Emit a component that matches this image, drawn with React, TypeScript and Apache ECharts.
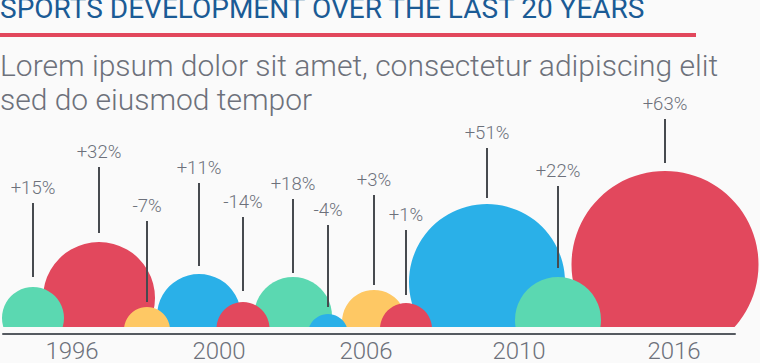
import React, { useEffect, useRef } from "react";
import * as echarts from "echarts";

const TITLE = "SPORTS DEVELOPMENT OVER THE LAST 20 YEARS";
const SUBTITLE = "Lorem ipsum dolor sit amet, consectetur adipiscing elit\nsed do eiusmod tempor";

// one entry per bubble
const changeLabels = ["+15%", "+32%", "-7%", "+11%", "-14%", "+18%", "-4%", "+3%", "+1%", "+51%", "+22%", "+63%"];
const bubbleX = [33, 99, 147, 199, 243, 293, 328, 374, 406, 487, 558, 665];
const bubbleY = [9, 29, -3, 11, -1.5, 11, -7, 5, -2, 45, 7, 62.5];
const bubbleR = [31, 56, 23, 42, 26.5, 39, 20, 32, 26, 78, 43, 93.5];
const leaderTop = [124, 160, 106, 144, 110, 128, 102, 132, 97, 179, 141, 208];
const leaderBottom = [50, 94, 25, 61, 36, 54, 20, 42, 32, 129, 59, 164];
const colorIndex = [0, 1, 2, 3, 1, 0, 3, 2, 1, 3, 0, 1];

// timeline tick labels
const yearLabels = ["1996", "2000", "2006", "2010", "2016"];
const yearPos = [72, 219, 366, 519, 674];

const PALETTE = ["#5bd8b1", "#e2485d", "#fec864", "#2ab0e8"];
const TEXT_GRAY = "#6d717b";
const FONT = "Roboto, 'Noto Sans', sans-serif";

export default function App() {
  const ref = useRef<HTMLDivElement>(null);

  useEffect(() => {
    if (!ref.current) return;
    const chart = echarts.init(ref.current, null, { renderer: "svg" });

    const bubbles = bubbleX
      .map((x, i) => [x, bubbleY[i], bubbleR[i], colorIndex[i]])
      .sort((a, b) => b[2] - a[2]);
    const leaders = bubbleX.map((x, i) => [x, leaderTop[i], leaderBottom[i], i]);

    chart.setOption({
      animation: false,
      backgroundColor: "#fafafa",
      title: [
        {
          text: TITLE,
          left: 0,
          top: -6,
          padding: 0,
          textStyle: { fontFamily: FONT, fontSize: 28, fontWeight: "normal", color: "#1b5b95" },
        },
        {
          text: SUBTITLE,
          left: 0,
          top: 48,
          padding: 0,
          textStyle: { fontFamily: FONT, fontSize: 30, fontWeight: 300, color: TEXT_GRAY, lineHeight: 34 },
        },
      ],
      graphic: [
        { type: "rect", left: 0, top: 33, shape: { width: 696, height: 4 }, style: { fill: "#e2475c" } },
      ],
      grid: [
        { left: 0, right: 0, top: 80, bottom: 36 },
        { left: 3, right: 25, top: 300, bottom: 25 },
      ],
      xAxis: [
        { type: "value", gridIndex: 0, min: 0, max: 760, show: false },
        {
          type: "value",
          gridIndex: 1,
          min: 3,
          max: 735,
          splitLine: { show: false },
          axisTick: { show: false },
          axisLine: { show: true, lineStyle: { color: "#555a60", width: 2 } },
          axisLabel: {
            customValues: yearPos,
            formatter: (v: number) => {
              const idx = yearPos.indexOf(v);
              return idx >= 0 ? yearLabels[idx] : "";
            },
            fontFamily: FONT,
            fontSize: 24,
            fontWeight: 300,
            color: TEXT_GRAY,
            margin: 5,
          },
        },
      ],
      yAxis: [
        { type: "value", gridIndex: 0, min: 0, max: 247, show: false },
        { type: "value", gridIndex: 1, min: 0, max: 1, show: false },
      ],
      series: [
        {
          type: "custom",
          xAxisIndex: 0,
          yAxisIndex: 0,
          clip: true,
          data: bubbles,
          renderItem: (params: any, api: any) => {
            const c = api.coord([api.value(0), api.value(1)]);
            const r = api.size([api.value(2), 0])[0];
            return {
              type: "circle",
              shape: { cx: c[0], cy: c[1], r },
              style: { fill: PALETTE[api.value(3)] },
            };
          },
        },
        {
          type: "custom",
          xAxisIndex: 0,
          yAxisIndex: 0,
          clip: false,
          z: 5,
          data: leaders,
          renderItem: (params: any, api: any) => {
            const top = api.coord([api.value(0), api.value(1)]);
            const bottom = api.coord([api.value(0), api.value(2)]);
            return {
              type: "group",
              children: [
                {
                  type: "line",
                  shape: { x1: top[0], y1: top[1], x2: bottom[0], y2: bottom[1] },
                  style: { stroke: "#474a4f", lineWidth: 2 },
                },
                {
                  type: "text",
                  x: top[0],
                  y: top[1] - 15,
                  style: {
                    text: changeLabels[api.value(3)],
                    fill: TEXT_GRAY,
                    fontFamily: FONT,
                    fontSize: 18.5,
                    fontWeight: 300,
                    align: "center",
                    verticalAlign: "middle",
                  },
                },
              ],
            };
          },
        },
      ],
    });

    return () => chart.dispose();
  }, []);

  return (
    <div
      ref={ref}
      style={{ position: "fixed", left: 0, top: 0, width: 760, height: 363 }}
    />
  );
}
